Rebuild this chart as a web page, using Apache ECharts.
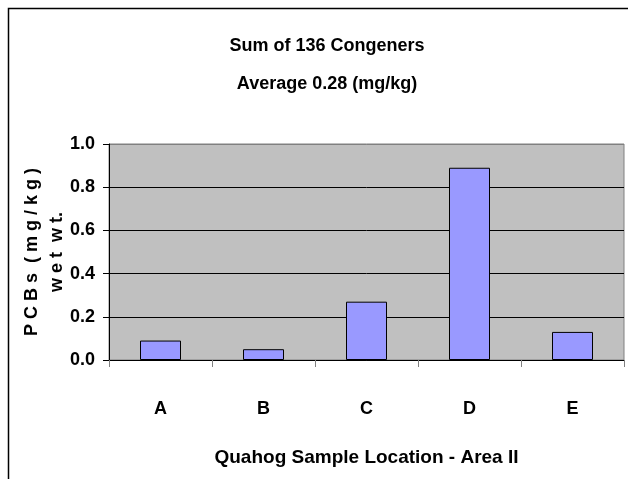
<!DOCTYPE html>
<html>
<head>
<meta charset="utf-8">
<script src="https://cdn.jsdelivr.net/npm/echarts@6/dist/echarts.min.js"></script>
<style>
  html, body { margin: 0; padding: 0; background: #fff; }
  #chart { width: 628px; height: 479px; }
</style>
</head>
<body>
<div id="chart"></div>
<script>
// data
const locations = ['A', 'B', 'C', 'D', 'E'];
const pcbValues = [0.09, 0.05, 0.27, 0.89, 0.13];
const yTicks = [0, 0.2, 0.4, 0.6, 0.8, 1.0];

const FONT = '"Liberation Sans", Arial, sans-serif';

const chart = echarts.init(document.getElementById('chart'));

chart.setOption({
  backgroundColor: '#fff',
  animation: false,
  graphic: [
    {
      // outer chart frame (right/bottom edges run off the picture)
      type: 'rect',
      shape: { x: 8.5, y: 8.5, width: 700, height: 600 },
      style: { fill: 'none', stroke: '#000', lineWidth: 1.5 },
      silent: true
    }
  ],
  title: {
    text: 'Sum of 136 Congeners\nAverage 0.28 (mg/kg)',
    left: 322,
    top: 22,
    textAlign: 'center',
    textStyle: {
      fontFamily: FONT,
      fontWeight: 'bold',
      fontSize: 18,
      lineHeight: 38,
      color: '#000'
    }
  },
  grid: {
    left: 109,
    top: 144,
    right: 4,
    bottom: 119,
    outerBoundsMode: 'none',
    containLabel: false,
    show: true,
    backgroundColor: '#c0c0c0',
    borderColor: '#808080',
    borderWidth: 1
  },
  xAxis: {
    type: 'category',
    data: locations,
    name: 'Quahog Sample Location - Area II',
    nameLocation: 'middle',
    nameGap: 88,
    nameMoveOverlap: false,
    nameTextStyle: {
      fontFamily: FONT,
      fontWeight: 'bold',
      fontSize: 19,
      color: '#000'
    },
    axisLine: { lineStyle: { color: '#000', width: 1 } },
    axisTick: { show: true, length: 7, inside: false, lineStyle: { color: '#808080' } },
    axisLabel: {
      margin: 40,
      fontFamily: FONT,
      fontWeight: 'bold',
      fontSize: 18,
      color: '#000'
    }
  },
  yAxis: {
    type: 'value',
    min: yTicks[0],
    max: yTicks[yTicks.length - 1],
    interval: 0.2,
    name: 'P C B s  ( m g / k g )\nw e t  w t.',
    nameLocation: 'middle',
    nameRotate: 90,
    nameGap: 39,
    nameMoveOverlap: false,
    nameTextStyle: {
      fontFamily: FONT,
      fontWeight: 'bold',
      fontSize: 18,
      lineHeight: 25,
      color: '#000'
    },
    axisLine: { show: true, lineStyle: { color: '#000', width: 1 } },
    axisTick: { show: true, length: 6, lineStyle: { color: '#000' } },
    axisLabel: {
      margin: 14,
      fontFamily: FONT,
      fontWeight: 'bold',
      fontSize: 18,
      color: '#000',
      formatter: v => v.toFixed(1)
    },
    splitLine: {
      show: true,
      lineStyle: { color: ['#000', '#000', '#000', '#000', '#000', '#808080'], width: 1 }
    }
  },
  series: [
    {
      name: 'PCBs',
      type: 'bar',
      data: pcbValues,
      barWidth: 41,
      itemStyle: {
        color: '#9999ff',
        borderColor: '#000',
        borderWidth: 1
      }
    }
  ]
});
</script>
</body>
</html>
